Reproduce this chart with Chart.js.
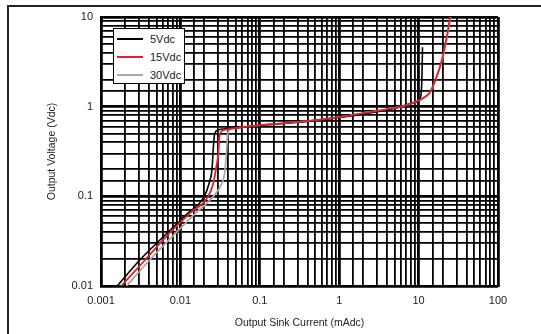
<!DOCTYPE html>
<html>
<head>
<meta charset="utf-8">
<script src="https://cdn.jsdelivr.net/npm/chart.js@4/dist/chart.umd.min.js"></script>
<style>
    html, body { margin: 0; padding: 0; background: #fff; }
    #wrap { position: relative; width: 541px; height: 334px; }
    #frame {
        position: absolute; left: 7px; top: 5px; right: 0; bottom: 0;
        border-left: 2px solid #222; border-top: 2px solid #222;
        pointer-events: none;
    }
    #legend {
        position: absolute; left: 113px; top: 28px; width: 70px; height: 53px;
        background: #fff; border: 1px solid #000;
        font: 11px "Liberation Sans", Arial, sans-serif; color: #222;
        padding-top: 1px;
    }
    #legend .row { display: flex; align-items: center; height: 18px; }
    #legend .swatch { width: 26px; margin: 0 7px 0 3px; }
</style>
</head>
<body>
<div id="wrap">
    <canvas id="sinkChart" width="541" height="334"></canvas>
    <div id="frame"></div>
    <div id="legend"></div>
</div>
<script>
// Output voltage vs sink current
const labels = ['5Vdc', '15Vdc', '30Vdc'];
const colors = ['#000000', '#e5202a', '#a8a8a8'];

const current5 = [0.0016, 0.003, 0.006, 0.012, 0.02, 0.023, 0.025, 0.026, 0.027, 0.03, 0.05, 0.1, 0.3, 1, 3, 6, 9, 10.5, 11, 11.2];
const volts5 = [0.01, 0.019, 0.035, 0.063, 0.1, 0.14, 0.2, 0.35, 0.5, 0.55, 0.58, 0.62, 0.67, 0.76, 0.88, 1.0, 1.12, 1.25, 2, 4.6];

const current15 = [0.0018, 0.0035, 0.0067, 0.013, 0.0224, 0.026, 0.028, 0.03, 0.031, 0.033, 0.04, 0.068, 0.2, 0.77, 1.4, 3, 6, 9.4, 12, 13.9, 16, 18.6, 21, 23, 25];
const volts15 = [0.01, 0.019, 0.036, 0.064, 0.1, 0.14, 0.2, 0.3, 0.45, 0.53, 0.56, 0.6, 0.65, 0.74, 0.8, 0.9, 1.0, 1.14, 1.28, 1.45, 1.9, 2.8, 4.3, 6.5, 10];

const current30 = [0.0021, 0.004, 0.008, 0.015, 0.026, 0.032, 0.036, 0.038, 0.039, 0.041, 0.05, 0.08, 0.2, 0.77, 1.4, 3, 6, 9.4, 12, 14, 16, 18.8, 21.2, 23.3, 25.3];
const volts30 = [0.01, 0.019, 0.036, 0.063, 0.1, 0.13, 0.18, 0.3, 0.45, 0.55, 0.58, 0.61, 0.65, 0.74, 0.8, 0.9, 1.0, 1.14, 1.28, 1.45, 1.9, 2.8, 4.3, 6.5, 10];

const xTickLabels = ['0.001', '0.01', '0.1', '1', '10', '100'];
const yTickLabels = ['0.01', '0.1', '1', '10'];

function toPoints(xs, ys) {
    return xs.map((x, i) => ({ x: x, y: ys[i] }));
}

function decadeLabel(value, list) {
    const e = Math.log10(value);
    if (Math.abs(e - Math.round(e)) > 1e-6) return '';
    const found = list.find(l => Math.abs(parseFloat(l) - value) / value < 1e-6);
    return found || '';
}

const series = [
    { pts: toPoints(current5, volts5), order: 1, width: 1.6 },
    { pts: toPoints(current15, volts15), order: 0, width: 1.8 },
    { pts: toPoints(current30, volts30), order: 2, width: 1.8 }
];

const font = { family: '"Liberation Sans", Arial, sans-serif', size: 11 };

const ctx = document.getElementById('sinkChart');
const chart = new Chart(ctx, {
    type: 'line',
    data: {
        datasets: series.map((s, i) => ({
            label: labels[i],
            data: s.pts,
            borderColor: colors[i],
            borderWidth: s.width,
            pointRadius: 0,
            fill: false,
            order: s.order,
            cubicInterpolationMode: 'monotone'
        }))
    },
    options: {
        responsive: false,
        animation: false,
        layout: { padding: { left: 40, right: 43, top: 17, bottom: 0 } },
        plugins: {
            legend: { display: false },
            tooltip: { enabled: false }
        },
        scales: {
            x: {
                type: 'logarithmic',
                min: 0.001,
                max: 100,
                afterFit: scale => { scale.height = 48; },
                border: { display: true, color: '#000', width: 2 },
                grid: {
                    color: '#000',
                    drawTicks: false,
                    lineWidth: c => (c.tick && c.tick.major ? 2.8 : 1.8)
                },
                ticks: {
                    autoSkip: false,
                    maxRotation: 0,
                    padding: 8,
                    color: '#222',
                    font: font,
                    callback: v => decadeLabel(v, xTickLabels)
                },
                title: {
                    display: true,
                    text: 'Output Sink Current (mAdc)',
                    color: '#222',
                    font: { family: font.family, size: 10.5 },
                    padding: { top: 2, bottom: 5 }
                }
            },
            y: {
                type: 'logarithmic',
                min: 0.01,
                max: 10,
                afterFit: scale => { scale.width = 61; },
                border: { display: true, color: '#000', width: 2 },
                grid: {
                    color: '#000',
                    drawTicks: false,
                    lineWidth: c => (c.tick && c.tick.major ? 2.8 : 1.8)
                },
                ticks: {
                    autoSkip: false,
                    padding: 8,
                    color: '#222',
                    font: font,
                    callback: v => decadeLabel(v, yTickLabels)
                },
                title: {
                    display: true,
                    text: 'Output Voltage (Vdc)',
                    color: '#222',
                    font: { family: font.family, size: 10.5 },
                    padding: { top: 6, bottom: 2 }
                }
            }
        }
    }
});

// legend sits inside the plot, like the datasheet
const legendEl = document.getElementById('legend');
chart.data.datasets.forEach(ds => {
    const row = document.createElement('div');
    row.className = 'row';
    const sw = document.createElement('span');
    sw.className = 'swatch';
    sw.style.borderTop = '2px solid ' + ds.borderColor;
    const txt = document.createElement('span');
    txt.textContent = ds.label;
    row.appendChild(sw);
    row.appendChild(txt);
    legendEl.appendChild(row);
});
</script>
</body>
</html>
